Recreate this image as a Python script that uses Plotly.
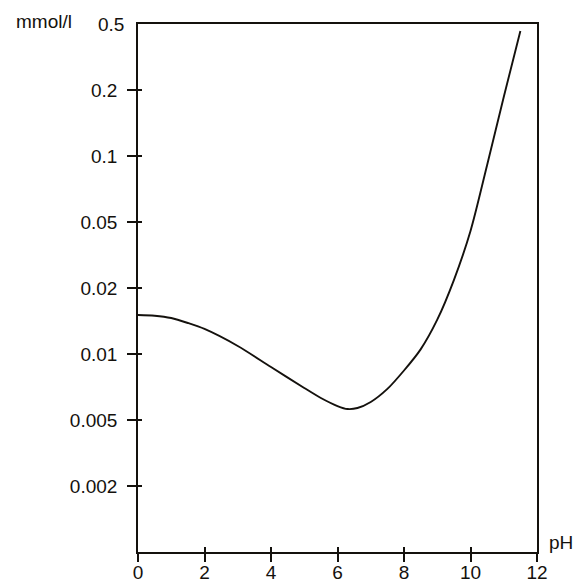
import numpy as np
import plotly.graph_objects as go

# Data
ph = [0, 0.5, 1, 1.5, 2, 3, 4, 5, 5.5, 6, 6.3, 6.6, 7, 7.5, 8, 8.5, 9, 9.5, 10, 10.5, 11, 11.5]
conc = [0.01506, 0.01495, 0.01459, 0.01385, 0.01301, 0.01088, 0.00872, 0.00700, 0.00630, 0.00579,
        0.00561, 0.00567, 0.00604, 0.00693, 0.00841, 0.01050, 0.01434, 0.02233, 0.04414, 0.0910,
        0.1858, 0.4537]

# The y scale of the original: 1-2-5 steps, evenly spaced
scale_values = [0.001, 0.002, 0.005, 0.01, 0.02, 0.05, 0.1, 0.2, 0.5]
y_tick_labels = ["0.002", "0.005", "0.01", "0.02", "0.05", "0.1", "0.2"]
x_ticks = [0, 2, 4, 6, 8, 10, 12]

scale_idx = list(range(len(scale_values)))
def to_scale(v):
    return np.interp(np.log10(v), np.log10(scale_values), scale_idx)

y_pos = to_scale(np.array(conc))
tick_pos = [float(to_scale(float(t))) for t in y_tick_labels]

ink = "#14110d"
font = dict(family="Liberation Sans, Arial, sans-serif", size=19, color=ink)

# page has an 8px body margin
W, H = 569, 576
ML, MR, MT, MB = 130, 40, 16, 32

fig = go.Figure()
fig.add_trace(go.Scatter(x=ph, y=y_pos, mode="lines",
                         line=dict(color=ink, width=1.9, shape="spline", smoothing=0.8),
                         hoverinfo="skip", showlegend=False))
# invisible helper trace for the overlay axes (other half of crossing ticks)
fig.add_trace(go.Scatter(x=[0], y=[0], xaxis="x2", yaxis="y2", mode="markers",
                         marker=dict(opacity=0), hoverinfo="skip", showlegend=False))

fig.update_layout(
    width=W, height=H,
    margin=dict(l=ML, r=MR, t=MT, b=MB),
    paper_bgcolor="white", plot_bgcolor="white",
    font=font,
    xaxis=dict(range=[0, 12], tickvals=x_ticks, ticktext=[str(t) for t in x_ticks],
               ticks="inside", ticklen=5, tickwidth=1.5, tickcolor=ink,
               showline=True, linecolor=ink, linewidth=1.6, mirror=True, automargin=False,
               showgrid=False, zeroline=False, ticklabelstandoff=2, tickfont=font),
    yaxis=dict(range=[0, 8], tickvals=tick_pos, ticktext=y_tick_labels,
               ticks="outside", ticklen=9, tickwidth=1.5, tickcolor=ink,
               showline=True, linecolor=ink, linewidth=1.6, mirror=True, automargin=False,
               showgrid=False, zeroline=False, ticklabelstandoff=6, tickfont=font),
    xaxis2=dict(range=[0, 12], overlaying="x", tickvals=x_ticks, ticks="outside", ticklen=9,
                tickwidth=1.5, tickcolor=ink, showticklabels=False, showgrid=False,
                zeroline=False, showline=False, side="bottom", automargin=False),
    yaxis2=dict(range=[0, 8], overlaying="y", tickvals=tick_pos, ticks="inside", ticklen=4,
                tickwidth=1.5, tickcolor=ink, showticklabels=False, showgrid=False,
                zeroline=False, showline=False, side="left", automargin=False),
)

plot_w = W - ML - MR
plot_h = H - MT - MB
fig.add_annotation(text="0.5", x=0, y=float(to_scale(0.5)), xref="x", yref="y",
                   xanchor="right", yanchor="middle", xshift=-12, showarrow=False, font=font)
fig.add_annotation(text="mmol/l", x=(6 - ML) / plot_w, y=(H - MB - 13) / plot_h,
                   xref="paper", yref="paper", xanchor="left", yanchor="middle",
                   showarrow=False, font=font)
fig.add_annotation(text="pH", x=12, y=0, xref="x", yref="y", xanchor="left", yanchor="middle",
                   xshift=10, yshift=10, showarrow=False, font=font)

fig.write_html("out.html")
